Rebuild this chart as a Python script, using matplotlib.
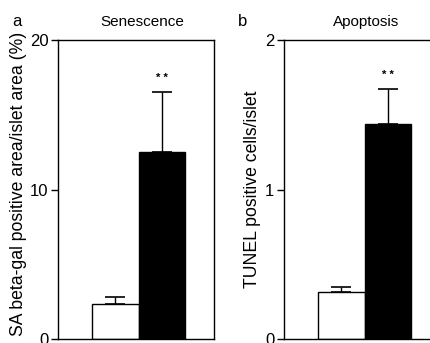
import matplotlib
matplotlib.use("Agg")
import matplotlib.pyplot as plt

plt.rcParams['font.family'] = ['Liberation Sans', 'DejaVu Sans']

# panel a: senescence
sen_means = [2.35, 12.5]
sen_errs = [0.45, 4.0]
sen_ticks = [0, 10, 20]
# panel b: apoptosis
apo_means = [0.315, 1.44]
apo_errs = [0.03, 0.23]
apo_ticks = [0, 1, 2]

bar_colors = ['white', 'black']
positions = [0, 1]

fig = plt.figure(figsize=(4.31, 3.43), dpi=100)

ax_a = fig.add_axes([58 / 431, 4 / 343, 156 / 431, 299 / 343])
ax_b = fig.add_axes([284 / 431, 4 / 343, 156 / 431, 299 / 343])


def draw_panel(ax, means, errs, ticks, ylabel, label_xy):
    ax.bar(positions, means, width=1.0, color=bar_colors, edgecolor='black', linewidth=1.0)
    ax.errorbar(positions, means, yerr=[[0, 0], errs], fmt='none', ecolor='black',
                elinewidth=1.0, capsize=7.5, capthick=1.2)
    ax.set_xlim(-1.23, 2.12)
    ax.set_ylim(ticks[0], ticks[-1])
    ax.set_yticks(ticks)
    ax.set_xticks([])
    ax.tick_params(axis='y', direction='out', length=5, width=1, pad=2, labelsize=12)
    for s in ax.spines.values():
        s.set_linewidth(1.0)
    ax.set_ylabel(ylabel, fontsize=12.7)
    ax.yaxis.set_label_coords(*label_xy)
    top = means[1] + errs[1]
    ax.annotate('* *', (positions[1], top), xytext=(0, 10), textcoords='offset points',
                ha='center', va='center', fontsize=8, fontweight='bold')


draw_panel(ax_a, sen_means, sen_errs, sen_ticks, 'SA beta-gal positive area/islet area (%)', (-0.20, 0.52))
draw_panel(ax_b, apo_means, apo_errs, apo_ticks, 'TUNEL positive cells/islet', (-0.145, 0.5))

fig.text(142 / 431, 1 - 22 / 343, 'Senescence', ha='center', va='center', fontsize=11)
fig.text(366 / 431, 1 - 22 / 343, 'Apoptosis', ha='center', va='center', fontsize=11)
fig.text(17 / 431, 1 - 21 / 343, 'a', ha='center', va='center', fontsize=12)
fig.text(243 / 431, 1 - 21 / 343, 'b', ha='center', va='center', fontsize=12)

fig.savefig('out.png', dpi=100)
